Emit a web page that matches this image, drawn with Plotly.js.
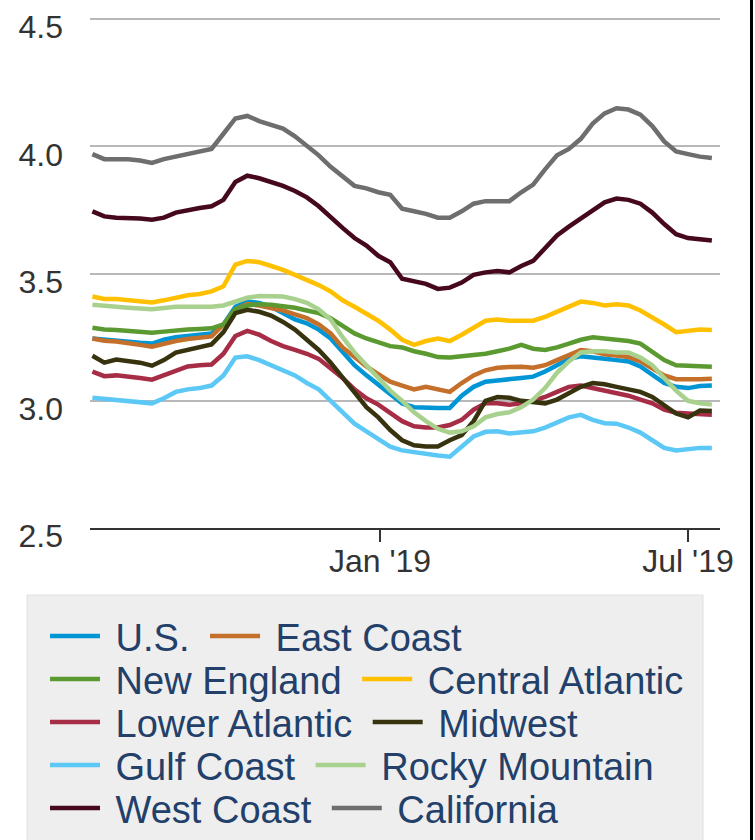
<!DOCTYPE html>
<html>
<head>
<meta charset="utf-8">
<script src="https://cdn.plot.ly/plotly-3.0.1.min.js"></script>
<style>html,body{margin:0;padding:0;background:#fff;}#chart{width:755px;height:840px;}</style>
</head>
<body>
<div id="chart"></div>
<script>
const weeks = [
  '2018-07-16','2018-07-23','2018-07-30','2018-08-06','2018-08-13','2018-08-20','2018-08-27',
  '2018-09-03','2018-09-10','2018-09-17','2018-09-24','2018-10-01','2018-10-08','2018-10-15',
  '2018-10-22','2018-10-29','2018-11-05','2018-11-12','2018-11-19','2018-11-26','2018-12-03',
  '2018-12-10','2018-12-17','2018-12-24','2018-12-31','2019-01-07','2019-01-14','2019-01-21',
  '2019-01-28','2019-02-04','2019-02-11','2019-02-18','2019-02-25','2019-03-04','2019-03-11',
  '2019-03-18','2019-03-25','2019-04-01','2019-04-08','2019-04-15','2019-04-22','2019-04-29',
  '2019-05-06','2019-05-13','2019-05-20','2019-05-27','2019-06-03','2019-06-10','2019-06-17',
  '2019-06-24','2019-07-01','2019-07-08','2019-07-15'
];

const usValues = [3.245,3.24,3.235,3.232,3.228,3.225,3.24,3.25,3.256,3.26,3.265,3.30,3.37,3.39,3.385,3.37,3.345,3.32,3.305,3.28,3.245,3.195,3.14,3.10,3.065,3.025,2.99,2.975,2.972,2.972,2.972,3.02,3.055,3.075,3.08,3.083,3.09,3.095,3.115,3.14,3.165,3.175,3.168,3.165,3.16,3.155,3.135,3.10,3.07,3.055,3.05,3.058,3.06];
const eastCoast = [3.245,3.236,3.233,3.228,3.22,3.213,3.225,3.235,3.243,3.248,3.253,3.30,3.36,3.38,3.375,3.365,3.355,3.34,3.325,3.30,3.265,3.21,3.17,3.135,3.105,3.075,3.06,3.045,3.055,3.045,3.035,3.07,3.10,3.12,3.13,3.133,3.134,3.13,3.14,3.16,3.18,3.20,3.195,3.183,3.178,3.172,3.155,3.13,3.10,3.085,3.083,3.085,3.087];
const newEngland = [3.287,3.28,3.278,3.274,3.27,3.268,3.272,3.277,3.28,3.282,3.285,3.30,3.36,3.375,3.38,3.378,3.372,3.366,3.355,3.345,3.325,3.295,3.265,3.245,3.23,3.215,3.21,3.195,3.185,3.172,3.17,3.175,3.18,3.185,3.195,3.205,3.22,3.205,3.20,3.21,3.225,3.24,3.25,3.245,3.24,3.235,3.225,3.195,3.16,3.14,3.137,3.135,3.134];
const centralAtlantic = [3.41,3.40,3.40,3.395,3.39,3.387,3.395,3.405,3.415,3.42,3.43,3.45,3.535,3.55,3.545,3.53,3.515,3.495,3.475,3.455,3.43,3.395,3.37,3.345,3.315,3.28,3.24,3.22,3.235,3.245,3.235,3.26,3.29,3.315,3.32,3.315,3.315,3.315,3.33,3.35,3.37,3.39,3.385,3.375,3.38,3.375,3.355,3.33,3.30,3.27,3.275,3.28,3.278];
const lowerAtlantic = [3.115,3.097,3.10,3.097,3.09,3.083,3.10,3.12,3.135,3.14,3.143,3.185,3.255,3.275,3.26,3.235,3.215,3.20,3.185,3.165,3.13,3.09,3.045,3.01,2.985,2.95,2.92,2.90,2.895,2.895,2.905,2.925,2.965,2.99,2.99,2.985,2.99,3.00,3.015,3.035,3.055,3.06,3.05,3.04,3.03,3.02,3.005,2.99,2.965,2.953,2.95,2.947,2.945];
const midwest = [3.177,3.15,3.162,3.158,3.15,3.138,3.16,3.19,3.20,3.21,3.222,3.27,3.345,3.358,3.35,3.335,3.31,3.28,3.24,3.20,3.15,3.09,3.035,2.975,2.935,2.885,2.845,2.825,2.82,2.82,2.845,2.865,2.92,3.00,3.015,3.012,3.00,2.995,2.99,3.005,3.03,3.055,3.07,3.065,3.055,3.045,3.035,3.015,2.985,2.95,2.935,2.962,2.96];
const gulfCoast = [3.012,3.008,3.005,3.0,2.995,2.99,3.01,3.035,3.045,3.05,3.06,3.10,3.17,3.175,3.16,3.14,3.12,3.10,3.07,3.045,3.00,2.955,2.91,2.88,2.85,2.82,2.805,2.797,2.79,2.785,2.78,2.82,2.86,2.878,2.88,2.872,2.875,2.88,2.895,2.915,2.935,2.945,2.925,2.912,2.91,2.895,2.875,2.845,2.815,2.805,2.81,2.815,2.815];
const rockyMountain = [3.378,3.372,3.37,3.366,3.362,3.36,3.365,3.37,3.37,3.37,3.37,3.375,3.39,3.405,3.412,3.413,3.41,3.40,3.385,3.36,3.32,3.25,3.19,3.14,3.09,3.04,3.00,2.955,2.92,2.89,2.875,2.88,2.90,2.935,2.948,2.955,2.975,3.005,3.05,3.11,3.155,3.19,3.195,3.195,3.19,3.19,3.17,3.14,3.09,3.04,3.00,2.99,2.985];
const westCoast = [3.745,3.725,3.72,3.72,3.717,3.712,3.72,3.74,3.75,3.758,3.765,3.79,3.86,3.885,3.875,3.86,3.845,3.825,3.80,3.765,3.72,3.68,3.64,3.61,3.57,3.545,3.48,3.47,3.46,3.44,3.445,3.465,3.495,3.505,3.51,3.505,3.53,3.55,3.60,3.65,3.685,3.715,3.75,3.78,3.795,3.79,3.775,3.74,3.695,3.655,3.64,3.635,3.63];
const california = [3.97,3.95,3.95,3.95,3.945,3.935,3.95,3.96,3.97,3.98,3.99,4.05,4.11,4.12,4.10,4.085,4.07,4.04,4.005,3.965,3.92,3.88,3.845,3.835,3.82,3.81,3.755,3.745,3.735,3.72,3.72,3.745,3.775,3.785,3.785,3.785,3.82,3.85,3.91,3.965,3.99,4.03,4.09,4.13,4.15,4.145,4.125,4.08,4.02,3.98,3.97,3.96,3.955];

const seriesNames = ['U.S.','East Coast','New England','Central Atlantic','Lower Atlantic','Midwest','Gulf Coast','Rocky Mountain','West Coast','California'];
const seriesValues = [usValues,eastCoast,newEngland,centralAtlantic,lowerAtlantic,midwest,gulfCoast,rockyMountain,westCoast,california];
const seriesColors = ['#0096d6','#c46f2a','#5b9a31','#ffc000','#a72d46','#37330f','#5cc8f5','#a9d18e','#45081c','#6e6e6e'];

const yTickVals = [2.5,3.0,3.5,4.0,4.5];
const yTickText = ['2.5','3.0','3.5','4.0','4.5'];
const xTickVals = ['2019-01-01','2019-07-01'];
const xTickText = ["Jan '19","Jul '19"];

const FONT = 'Arial, "Liberation Sans", sans-serif';
const NB = '\u00a0';

const legendIds = ['legend','legend','legend2','legend2','legend3','legend3','legend4','legend4','legend5','legend5'];

const traces = seriesNames.map((name, i) => ({
  type: 'scatter',
  mode: 'lines',
  x: weeks,
  y: seriesValues[i],
  name: NB + name + (i % 2 === 0 ? NB : ''),
  legend: legendIds[i],
  line: {color: seriesColors[i], width: 4.5},
  hoverinfo: 'x+y+name'
}));

// plot area: left 90, right 720, top 18, bottom 528 (px)
const plotTop = 18, plotBottom = 528, plotH = plotBottom - plotTop, plotL = 90, plotW = 630;
function paperY(px) { return (plotBottom - px) / plotH; }
function paperX(px) { return (px - plotL) / plotW; }

const LEG_FS = 38;
const legItemHalf = 5 + (LEG_FS * 1.3 + 3) / 2;

function legendRow(row) {
  return {
    orientation: 'h',
    x: paperX(45), xanchor: 'left',
    y: paperY(636 + 43 * row - legItemHalf), yanchor: 'top',
    bgcolor: 'rgba(0,0,0,0)', borderwidth: 0,
    itemwidth: 50,
    traceorder: 'normal',
    font: {family: FONT, size: LEG_FS, color: '#22406a'}
  };
}

const layout = {
  width: 755, height: 840,
  margin: {l: 90, r: 35, t: 18, b: 312, autoexpand: false},
  paper_bgcolor: '#ffffff',
  plot_bgcolor: '#ffffff',
  showlegend: true,
  xaxis: {
    type: 'date',
    range: ['2018-07-14 14:00', '2019-07-19 19:00'],
    tickvals: xTickVals, ticktext: xTickText,
    ticks: 'outside', ticklen: 12, tickwidth: 2, tickcolor: '#333333',
    showline: true, linecolor: '#333333', linewidth: 2,
    showgrid: false, zeroline: false,
    ticklabelstandoff: -8,
    tickfont: {family: FONT, size: 32, color: '#333333'}
  },
  yaxis: {
    range: [2.5, 4.505],
    tickvals: yTickVals, ticktext: yTickText,
    ticks: '', showline: false,
    showgrid: true, gridcolor: '#b8b8b8', gridwidth: 2,
    zeroline: false,
    ticklabelstandoff: 26,
    ticklabelshift: 8,
    tickfont: {family: FONT, size: 32, color: '#333333'}
  },
  legend: legendRow(0),
  legend2: legendRow(1),
  legend3: legendRow(2),
  legend4: legendRow(3),
  legend5: legendRow(4),
  shapes: [
    {type: 'rect', xref: 'paper', yref: 'paper', layer: 'below',
     x0: paperX(27), x1: paperX(703), y0: paperY(595), y1: paperY(850),
     fillcolor: '#eeeeee', line: {color: '#e0e0e0', width: 1}},
    {type: 'line', xref: 'paper', yref: 'paper',
     x0: paperX(751.5), x1: paperX(751.5), y0: paperY(-5), y1: paperY(850),
     line: {color: '#000000', width: 3}}
  ]
};

Plotly.newPlot('chart', traces, layout, {displayModeBar: false});
</script>
</body>
</html>
